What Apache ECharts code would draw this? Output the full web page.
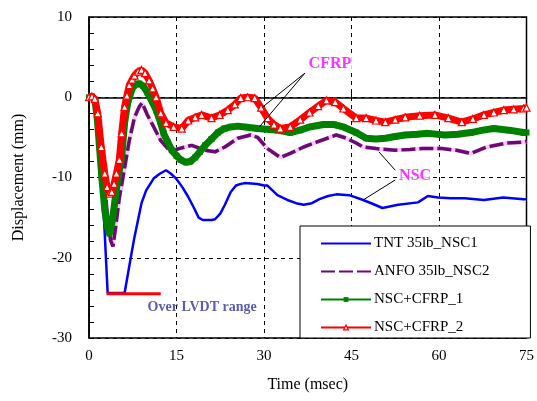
<!DOCTYPE html>
<html><head><meta charset="utf-8">
<script src="https://cdn.jsdelivr.net/npm/echarts@6/dist/echarts.min.js"></script>
<style>html,body{margin:0;padding:0;background:#fff}#c{width:537px;height:401px}</style>
</head><body><div id="c"></div>
<script>
// ---- data ----
const seriesNames = ['TNT 35lb_NSC1', 'ANFO 35lb_NSC2', 'NSC+CFRP_1', 'NSC+CFRP_2'];
const xTicks = [0, 15, 30, 45, 60, 75];
const yTicks = [-30, -20, -10, 0, 10];

const tTNT = [0, 0.5, 1.0, 1.3, 1.7, 2.2, 2.7, 3.2, 4.0, 5.0, 6.1, 6.3, 7.3, 7.8, 9.0, 9.8, 11.1, 12.2, 13.2, 14.0, 14.9, 16.0, 17.0, 18.0, 18.8, 19.5, 21.0, 21.6, 22.5, 23.3, 24.3, 25.2, 26.0, 26.7, 28.9, 30.0, 30.6, 32.3, 34.0, 35.5, 36.8, 38.2, 39.5, 41.0, 42.4, 44.6, 47.0, 48.7, 50.3, 53.0, 56.4, 58.1, 59.8, 62.0, 64.4, 67.7, 71.0, 74.5, 75];
const vTNT = [0, 0, 0, -1.0, -5.0, -10.0, -17.0, -24.4, -24.4, -24.4, -24.4, -24.3, -19.4, -17.4, -13.2, -11.6, -10.1, -9.5, -9.1, -9.5, -10.1, -11.2, -12.4, -13.8, -15.0, -15.3, -15.3, -15.2, -14.5, -13.4, -11.8, -11.0, -10.8, -10.7, -10.8, -11.0, -11.0, -12.2, -12.8, -13.2, -13.4, -13.2, -12.7, -12.3, -12.1, -12.2, -12.8, -13.3, -13.8, -13.4, -13.1, -12.3, -12.5, -12.6, -12.6, -12.8, -12.5, -12.7, -12.7];

const tANFO = [0, 0.5, 1.0, 1.5, 2.0, 2.6, 3.2, 3.7, 4.1, 4.6, 5.2, 5.7, 6.1, 6.9, 7.8, 8.6, 9.1, 10.0, 11.1, 12.3, 14.0, 15.4, 16.5, 17.6, 19.9, 21.6, 23.3, 25.5, 27.7, 28.9, 30.6, 32.8, 34.5, 36.8, 39.0, 42.4, 44.1, 45.8, 47.0, 49.2, 52.5, 55.0, 57.1, 60.5, 63.0, 65.5, 68.2, 71.6, 74.5, 75];
const vANFO = [0, 0, -0.3, -1.5, -5.0, -10.0, -15.3, -17.8, -18.6, -16.0, -12.5, -10.5, -8.8, -5.4, -2.5, -1.2, -0.7, -2.2, -3.7, -5.4, -6.8, -6.4, -6.2, -6.0, -6.6, -6.8, -6.2, -5.1, -4.7, -5.0, -6.4, -7.5, -7.0, -6.2, -5.6, -4.7, -5.1, -5.7, -6.2, -6.4, -6.6, -6.5, -6.4, -6.4, -6.6, -7.0, -6.2, -5.7, -5.6, -5.5];

const tCFRP1 = [0, 0.5, 1.0, 1.4, 1.8, 2.2, 2.7, 3.1, 3.5, 3.9, 4.4, 4.9, 5.6, 6.1, 6.6, 7.4, 8.0, 8.6, 9.3, 10.0, 10.8, 11.5, 12.2, 12.8, 13.5, 14.2, 15.0, 15.7, 16.6, 17.4, 18.2, 19.0, 19.9, 21.0, 22.1, 23.2, 24.3, 25.5, 26.7, 28.9, 30.6, 32.3, 34.5, 36.2, 37.8, 40.2, 42.0, 43.6, 45.8, 47.5, 49.2, 50.8, 52.5, 54.2, 56.2, 58.1, 61.0, 63.2, 65.5, 67.5, 69.4, 72.0, 74.5, 75];
const vCFRP1 = [0, 0.1, -0.3, -2.5, -6.2, -10.0, -14.0, -16.0, -17.0, -15.8, -13.2, -10.3, -7.5, -3.2, -0.8, 1.1, 1.6, 1.7, 1.4, 0.6, -0.5, -1.6, -3.0, -4.5, -5.6, -6.6, -7.3, -7.8, -8.1, -8.0, -7.5, -6.8, -6.0, -5.2, -4.4, -3.9, -3.7, -3.6, -3.7, -3.9, -4.0, -4.1, -4.4, -4.1, -3.7, -3.4, -3.4, -3.7, -4.4, -5.1, -5.2, -5.1, -4.9, -4.7, -4.6, -4.5, -4.7, -4.6, -4.4, -4.1, -3.9, -4.1, -4.4, -4.4];

const tCFRP2 = [0, 0.5, 1.0, 1.5, 2.1, 2.7, 3.1, 3.5, 3.9, 4.3, 4.7, 5.2, 5.6, 6.1, 6.5, 6.9, 7.4, 7.8, 8.4, 9.0, 9.6, 10.3, 10.9, 11.5, 12.3, 13.2, 14.5, 15.9, 17.0, 18.2, 19.3, 21.0, 22.4, 23.8, 25.0, 26.0, 27.2, 28.4, 29.5, 30.6, 31.7, 32.8, 34.5, 36.2, 37.8, 39.3, 40.7, 42.2, 43.6, 45.8, 47.5, 49.2, 50.8, 52.5, 54.2, 56.7, 59.3, 61.6, 63.9, 65.8, 67.7, 69.4, 71.1, 72.8, 74.5, 75];
const vCFRP2 = [0, 0.1, -0.2, -2.0, -6.2, -9.5, -11.2, -12.0, -11.8, -10.8, -9.5, -7.8, -4.5, -1.2, 0.2, 1.5, 2.2, 2.7, 3.2, 3.4, 3.0, 2.1, 1.1, 0, -2.0, -3.2, -3.7, -3.9, -2.9, -2.5, -2.2, -2.6, -2.2, -1.6, -0.9, -0.1, 0.0, -0.1, -1.3, -2.6, -3.4, -3.9, -3.7, -2.8, -1.9, -1.1, -0.4, -0.6, -1.4, -2.6, -2.6, -2.9, -3.1, -2.8, -2.5, -2.3, -2.2, -2.6, -3.1, -2.7, -2.2, -1.9, -1.6, -1.5, -1.4, -1.3];

// "Over LVDT range" bar
const lvdtT = [3.0, 12.3];
const lvdtV = [-24.5, -24.5];

// annotations (data coordinates)
const annoText = ['CFRP', 'NSC', 'Over LVDT range'];
const annoPos = [[41.3, 4.2], [55.9, -9.8], [19.4, -26.2]];
const cfrpLeaders = [[[37.0, 3.0], [29.7, -1.25]], [[37.0, 3.0], [29.2, -3.7]]];
const nscLeaders = [[[52.5, -9.1], [49.7, -6.8]], [[52.5, -10.3], [47.0, -12.8]]];

// ---- build ----
const zip = (t, v) => t.map((x, i) => [x, v[i]]);
const FONT = '"Liberation Serif", "Times New Roman", serif';

const series = [];
series.push({ name: '_anfoPink', type: 'line', data: zip(tANFO, vANFO), symbol: 'none', silent: true,
  lineStyle: { color: '#f7c6f5', width: 4 }, z: 2 });
series.push({ name: seriesNames[1], type: 'line', data: zip(tANFO, vANFO), symbol: 'none',
  lineStyle: { color: '#6a0a72', width: 3.5, type: [14, 4] }, itemStyle: { color: '#6a0a72' }, z: 3 });
series.push({ name: seriesNames[0], type: 'line', data: zip(tTNT, vTNT), symbol: 'none',
  lineStyle: { color: '#0000ff', width: 2.5 }, itemStyle: { color: '#0000ff' }, z: 4 });
series.push({ name: '_g', type: 'line', data: zip(tCFRP1, vCFRP1), symbol: 'none', silent: true,
  lineStyle: { color: '#008000', width: 7 }, z: 5 });
series.push({ name: seriesNames[2], type: 'line', data: zip(tCFRP1, vCFRP1), symbol: 'rect', symbolSize: 6,
  lineStyle: { color: '#008000', width: 1.5 }, itemStyle: { color: '#008000' }, z: 6 });
series.push({ name: '_r', type: 'line', data: zip(tCFRP2, vCFRP2), symbol: 'none', silent: true,
  lineStyle: { color: '#ff0000', width: 7 }, z: 7 });
series.push({ name: seriesNames[3], type: 'line', data: zip(tCFRP2, vCFRP2), symbol: 'triangle', symbolSize: 7,
  lineStyle: { color: '#ff0000', width: 1.5 }, itemStyle: { color: '#ffffff', borderColor: '#ff0000', borderWidth: 1.2 }, z: 8 });
series.push({ name: '_lvdt', type: 'line', data: zip(lvdtT, lvdtV), symbol: 'none', silent: true,
  lineStyle: { color: '#ff0000', width: 3 }, z: 9 });
[...cfrpLeaders, ...nscLeaders].forEach((seg, i) => series.push({ name: '_lead' + i, type: 'line', data: seg,
  symbol: 'none', silent: true, lineStyle: { color: '#000', width: 1 }, z: 10 }));
const annoColors = ['#ff00ff', '#ff00ff', '#333399'];
const annoSizes = [16, 16, 14];
annoText.forEach((txt, i) => series.push({ name: '_txt' + i, type: 'scatter', data: [annoPos[i]], symbolSize: 0,
  silent: true, z: 11,
  label: { show: true, position: 'inside', formatter: txt, color: annoColors[i], fontFamily: FONT,
    fontWeight: 'bold', fontSize: annoSizes[i], backgroundColor: i === 2 ? 'transparent' : '#ffffff', padding: [0, 1] } }));

const chart = echarts.init(document.getElementById('c'));
chart.setOption({
  animation: false,
  backgroundColor: '#ffffff',
  grid: { left: 89, right: 4, top: 17, bottom: 63, show: true, borderColor: '#000', borderWidth: 1.5, backgroundColor: 'transparent' },
  xAxis: {
    type: 'value', min: xTicks[0], max: xTicks[xTicks.length - 1], interval: 15,
    name: 'Time (msec)', nameLocation: 'middle', nameGap: 39,
    nameTextStyle: { fontFamily: FONT, fontSize: 16, color: '#000' },
    axisLine: { show: true, lineStyle: { color: '#000', width: 1.5 } },
    axisTick: { show: true, inside: true, length: 5, lineStyle: { color: '#000' } },
    axisLabel: { fontFamily: FONT, fontSize: 15, color: '#000', margin: 11 },
    splitLine: { show: true, lineStyle: { color: '#000', type: [4, 4], width: 1 } }
  },
  yAxis: {
    type: 'value', min: yTicks[0], max: yTicks[yTicks.length - 1], interval: 10,
    name: 'Displacement (mm)', nameLocation: 'middle', nameGap: 62,
    nameTextStyle: { fontFamily: FONT, fontSize: 16, color: '#000' },
    axisLine: { show: true, lineStyle: { color: '#000', width: 1.5 } },
    axisTick: { show: true, inside: true, length: 5, lineStyle: { color: '#000' } },
    minorTick: { show: true, splitNumber: 5, length: 5, lineStyle: { color: '#000' } },
    axisLabel: { fontFamily: FONT, fontSize: 15, color: '#000', margin: 17 },
    splitLine: { show: true, lineStyle: { color: '#000', type: [4, 4], width: 1 } }
  },
  legend: {
    data: [
      { name: seriesNames[0], itemStyle: { opacity: 0 } },
      { name: seriesNames[1], itemStyle: { opacity: 0 } },
      { name: seriesNames[2], lineStyle: { width: 2, color: '#008000' }, itemStyle: { color: '#008000' } },
      { name: seriesNames[3], lineStyle: { width: 2, color: '#ff0000' }, itemStyle: { color: '#ffffff', borderColor: '#ff0000', borderWidth: 1.2 } }
    ],
    orient: 'vertical', left: 300, top: 226,
    itemWidth: 50, itemHeight: 6, itemGap: 13,
    padding: [10, 41, 3, 20],
    backgroundColor: '#ffffff', borderColor: '#000', borderWidth: 1,
    textStyle: { fontFamily: FONT, fontSize: 15, color: '#000', padding: [0, 0, 0, -2] },
    selectedMode: false
  },
  series: series
});
</script></body></html>
